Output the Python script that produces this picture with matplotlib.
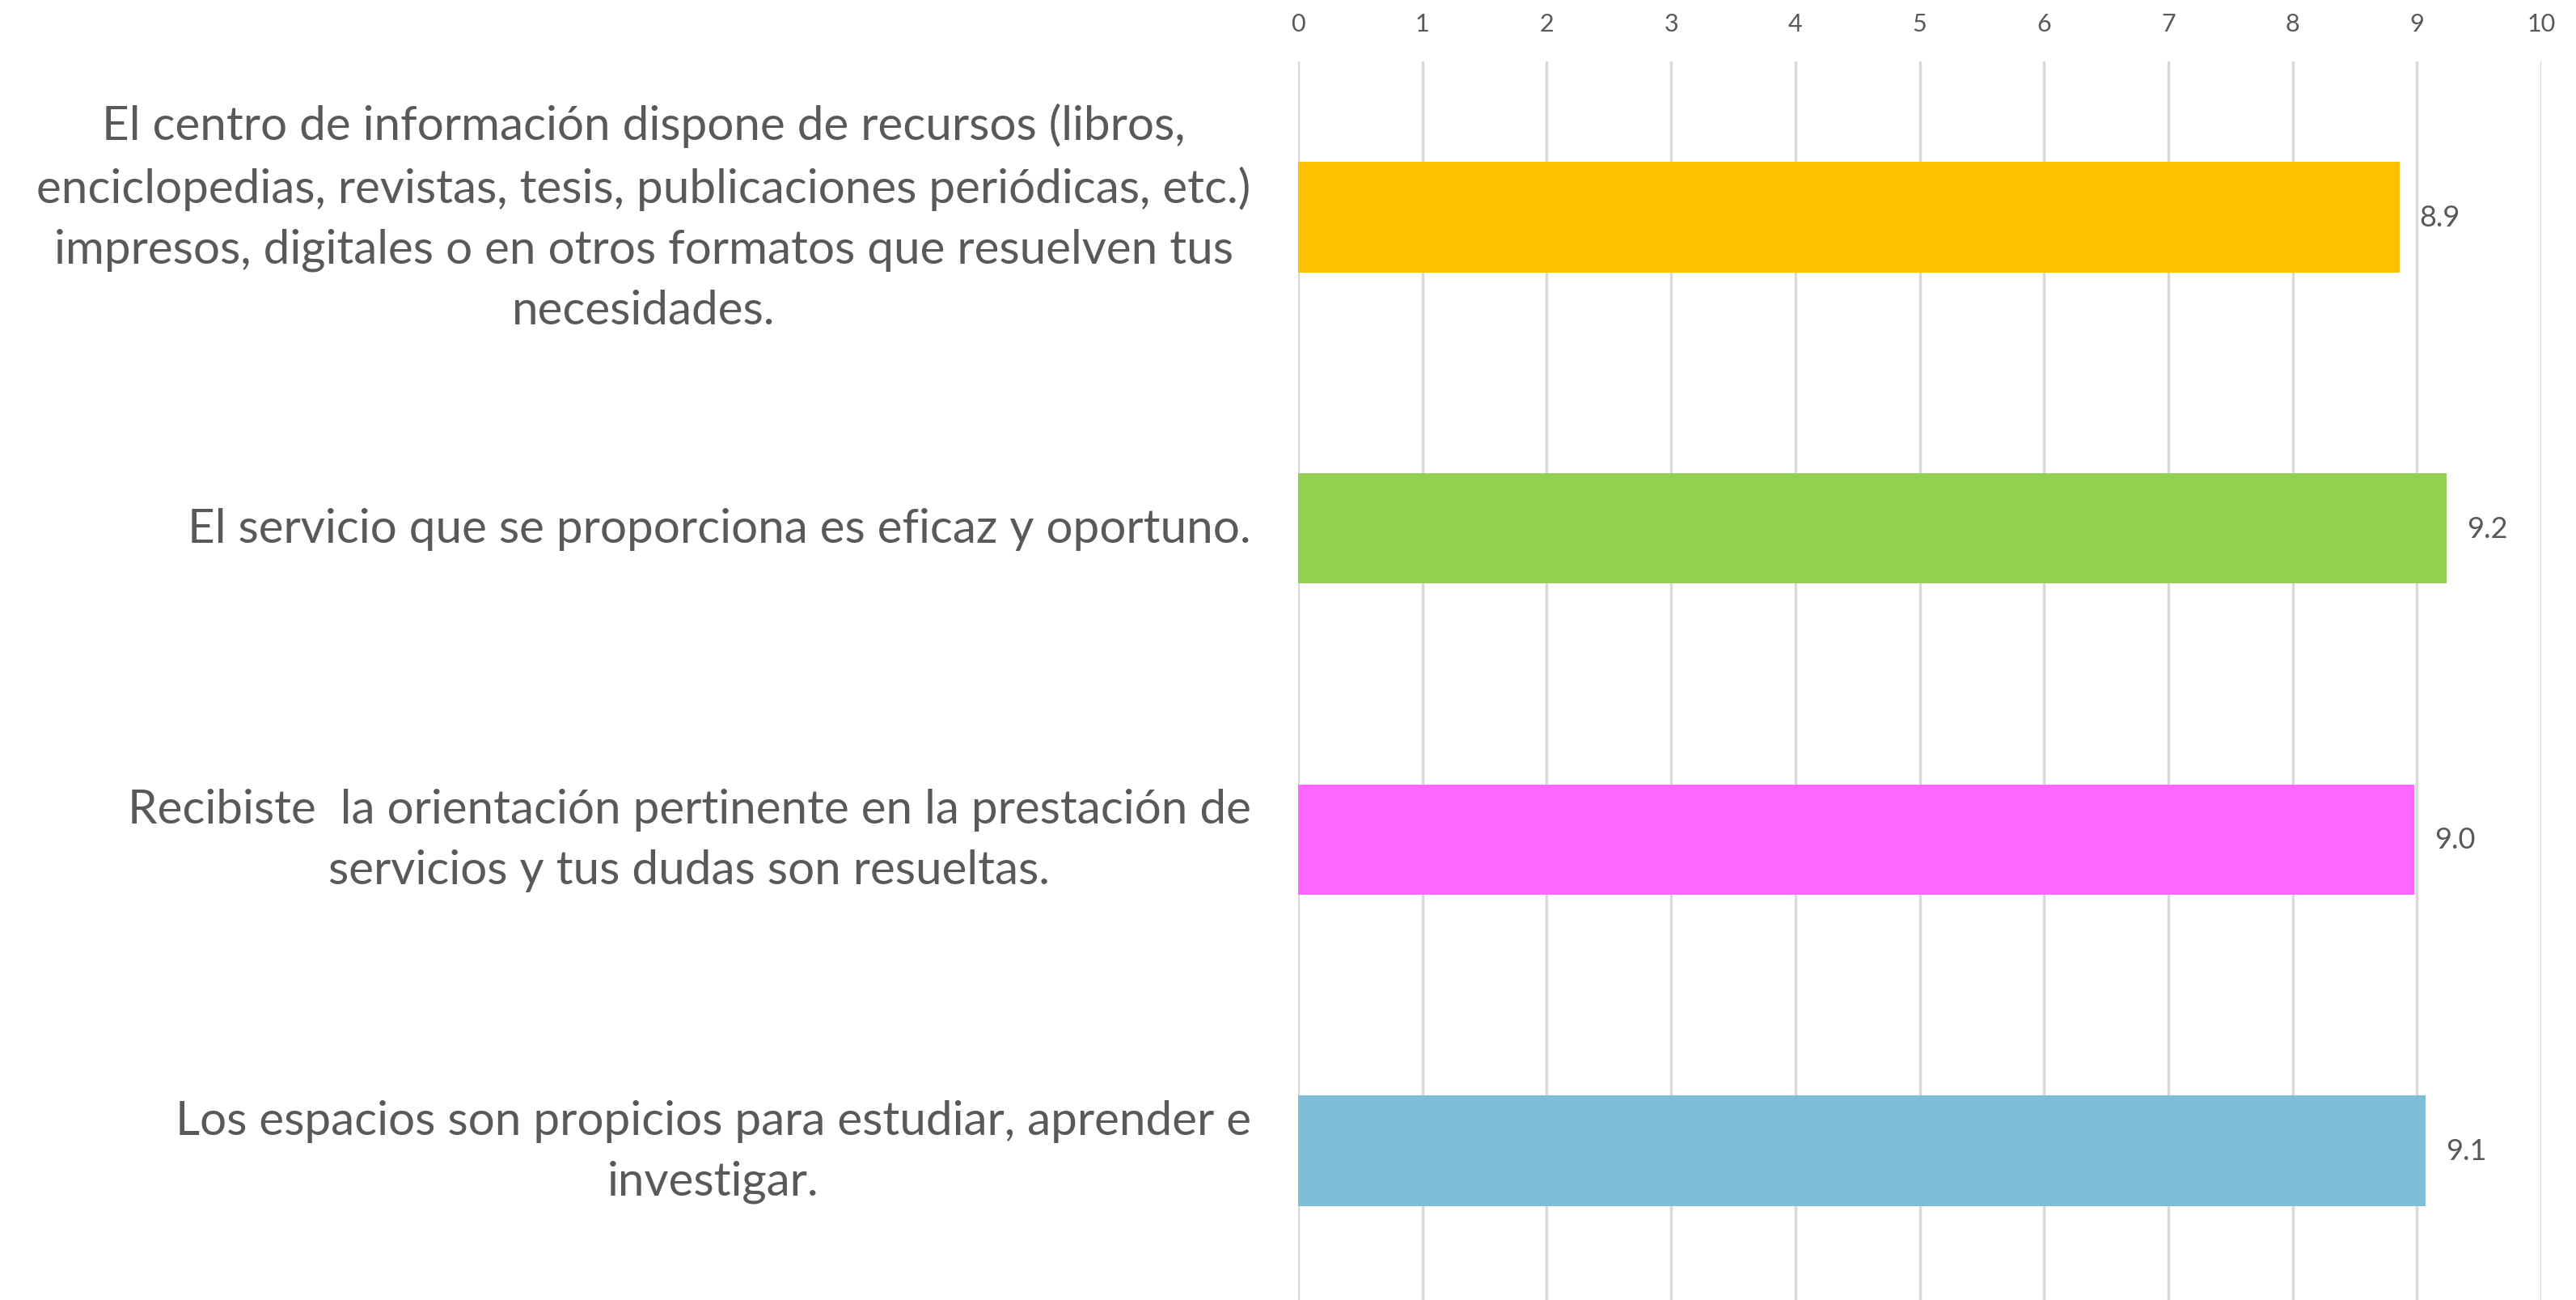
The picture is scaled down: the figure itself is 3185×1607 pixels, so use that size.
import matplotlib
matplotlib.use("Agg")
import matplotlib.pyplot as plt

categories = [
    "El centro de información dispone de recursos (libros,\nenciclopedias, revistas, tesis, publicaciones periódicas, etc.)\nimpresos, digitales o en otros formatos que resuelven tus\nnecesidades.",
    "El servicio que se proporciona es eficaz y oportuno.",
    "Recibiste  la orientación pertinente en la prestación de\nservicios y tus dudas son resueltas.",
    "Los espacios son propicios para estudiar, aprender e\ninvestigar.",
]
values = [8.86, 9.24, 8.98, 9.07]
colors = ["#FFC000", "#92D050", "#FF66FF", "#7FBED7"]
xticks = list(range(0, 11))

plt.rcParams['font.family'] = ['Lato', 'DejaVu Sans']

fig = plt.figure(figsize=(31.85, 16.08), dpi=100)
ax = fig.add_axes([1605/3185, -8/1608, (3142-1605)/3185, 1 - 77/1608 + 8/1608])

y = list(range(len(categories)))
ax.barh(y, values, height=0.355, color=colors, zorder=3)
ax.set_ylim(len(categories) - 0.5, -0.5)
ax.set_xlim(0, 10)
ax.set_xticks(xticks)
ax.xaxis.tick_top()
ax.tick_params(axis='x', length=0, pad=24, labelsize=22, labelcolor='#595959')
ax.set_yticks(y)
ax.set_yticklabels([])
ax.tick_params(axis='y', length=0)
ax.grid(axis='x', color='#D9D9D9', linewidth=2.5, zorder=0)
for s in ax.spines.values():
    s.set_visible(False)

for yi, v in zip(y, values):
    ax.text(v + 0.16, yi, f"{v:.1f}", va='center', ha='left', fontsize=26, color='#595959')

for yi, lab in zip(y, categories):
    ax.text(-0.38, yi, lab, va='center', ha='right', multialignment='center',
            fontsize=42, color='#595959', linespacing=1.5, transform=ax.transData)

fig.savefig("out.png", dpi=100)
